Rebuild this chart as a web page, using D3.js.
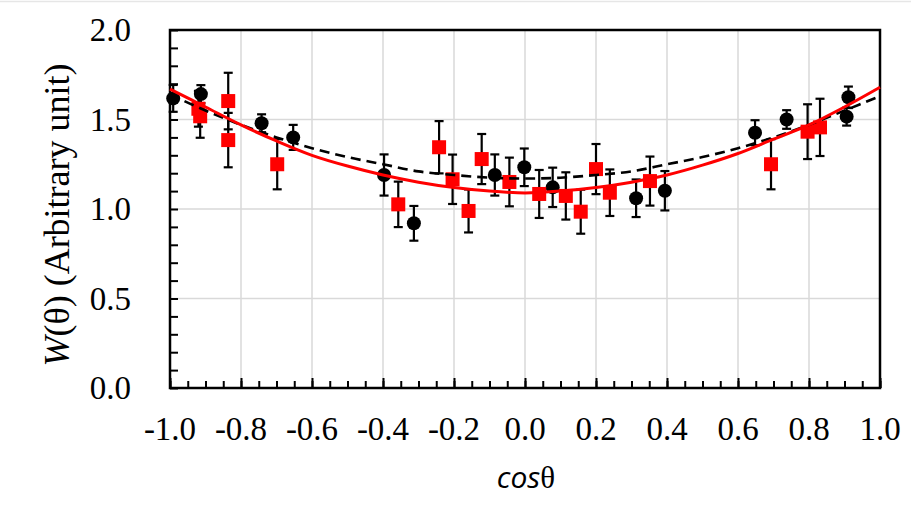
<!DOCTYPE html>
<html>
<head>
<meta charset="utf-8">
<script src="https://cdn.jsdelivr.net/npm/d3@7"></script>
<style>
  html, body { margin: 0; padding: 0; background: #fff; }
  svg { display: block; }
</style>
</head>
<body>
<svg id="chart" width="911" height="524"></svg>
<script>
// ---- data ----
const blackCos = [-0.991, -0.913, -0.742, -0.653, -0.397, -0.313, -0.085, -0.002, 0.078, 0.313, 0.394, 0.648, 0.737, 0.906, 0.911];
const blackW   = [1.618, 1.642, 1.479, 1.400, 1.190, 0.920, 1.190, 1.233, 1.121, 1.060, 1.102, 1.426, 1.500, 1.516, 1.624];
const blackErr = [0.075, 0.050, 0.050, 0.070, 0.115, 0.097, 0.115, 0.105, 0.110, 0.105, 0.110, 0.070, 0.052, 0.050, 0.060];

const redCos = [-0.920, -0.915, -0.836, -0.836, -0.698, -0.357, -0.242, -0.204, -0.159, -0.122, -0.044, 0.040, 0.115, 0.157, 0.200, 0.239, 0.352, 0.693, 0.796, 0.831];
const redW   = [1.560, 1.518, 1.603, 1.385, 1.250, 1.026, 1.345, 1.166, 0.989, 1.279, 1.151, 1.084, 1.073, 0.985, 1.223, 1.091, 1.156, 1.250, 1.432, 1.456];
const redErr = [0.100, 0.120, 0.158, 0.152, 0.140, 0.127, 0.146, 0.138, 0.120, 0.140, 0.136, 0.134, 0.132, 0.123, 0.140, 0.130, 0.137, 0.140, 0.153, 0.160];

const curveCos = [-1.0, -0.9, -0.8, -0.7, -0.6, -0.5, -0.4, -0.3, -0.2, -0.1, 0.0, 0.1, 0.2, 0.3, 0.4, 0.5, 0.6, 0.7, 0.8, 0.9, 1.0];
const redFitW  = [1.67, 1.57, 1.47, 1.38, 1.30, 1.24, 1.19, 1.15, 1.12, 1.10, 1.09, 1.10, 1.12, 1.15, 1.19, 1.245, 1.31, 1.39, 1.47, 1.57, 1.68];
const dashFitW = [1.64, 1.55, 1.47, 1.40, 1.34, 1.29, 1.25, 1.21, 1.19, 1.175, 1.17, 1.175, 1.19, 1.21, 1.25, 1.29, 1.34, 1.40, 1.47, 1.55, 1.63];

const xTickValues = [-1.0, -0.8, -0.6, -0.4, -0.2, 0.0, 0.2, 0.4, 0.6, 0.8, 1.0];
const xTickLabels = ["-1.0", "-0.8", "-0.6", "-0.4", "-0.2", "0.0", "0.2", "0.4", "0.6", "0.8", "1.0"];
const yTickValues = [0.0, 0.5, 1.0, 1.5, 2.0];
const yTickLabels = ["0.0", "0.5", "1.0", "1.5", "2.0"];

// ---- drawing ----
const svg = d3.select("#chart");
const L = 170, R = 880, T = 30, B = 388;
const x = d3.scaleLinear().domain([-1, 1]).range([L, R]);
const y = d3.scaleLinear().domain([0, 2]).range([B, T]);
const serif = "'Liberation Serif', 'Times New Roman', serif";

// faint top border line of the picture
svg.append("line").attr("x1", 0).attr("x2", 911).attr("y1", 1.5).attr("y2", 1.5)
  .attr("stroke", "#e6e6e6").attr("stroke-width", 1.5);

// grid
const grid = svg.append("g");
grid.selectAll("line.v").data(xTickValues.slice(1, -1)).join("line")
  .attr("x1", d => x(d)).attr("x2", d => x(d)).attr("y1", T).attr("y2", B)
  .attr("stroke", "#d9d9d9").attr("stroke-width", 1.5);
grid.selectAll("line.h").data(yTickValues.slice(1, -1)).join("line")
  .attr("x1", L).attr("x2", R).attr("y1", d => y(d)).attr("y2", d => y(d))
  .attr("stroke", "#d9d9d9").attr("stroke-width", 1.5);

// minor + major inward ticks
const xMinor = d3.range(-1, 1.0001, 0.05);
svg.append("g").attr("transform", `translate(0,${B})`)
  .call(d3.axisBottom(x).tickValues(xMinor).tickSize(-7).tickFormat(""))
  .call(g => g.select(".domain").remove())
  .call(g => g.selectAll("line").attr("stroke", "#000").attr("stroke-width", 2));
svg.append("g").attr("transform", `translate(0,${B})`)
  .call(d3.axisBottom(x).tickValues(xTickValues).tickSize(-10).tickFormat(""))
  .call(g => g.select(".domain").remove())
  .call(g => g.selectAll("line").attr("stroke", "#000").attr("stroke-width", 2));
const yMinor = d3.range(0, 2.0001, 0.1);
svg.append("g").attr("transform", `translate(${L},0)`)
  .call(d3.axisLeft(y).tickValues(yMinor).tickSize(-8).tickFormat(""))
  .call(g => g.select(".domain").remove())
  .call(g => g.selectAll("line").attr("stroke", "#000").attr("stroke-width", 2));

// frame
svg.append("rect").attr("x", L).attr("y", T).attr("width", R - L).attr("height", B - T)
  .attr("fill", "none").attr("stroke", "#000").attr("stroke-width", 2.5);

// tick labels
svg.append("g").selectAll("text").data(xTickValues).join("text")
  .attr("x", d => x(d)).attr("y", 440)
  .attr("text-anchor", "middle").attr("font-family", serif).attr("font-size", 33)
  .attr("fill", "#000").text((d, i) => xTickLabels[i]);
svg.append("g").selectAll("text").data(yTickValues).join("text")
  .attr("x", 131).attr("y", d => y(d) + 11)
  .attr("text-anchor", "end").attr("font-family", serif).attr("font-size", 33)
  .attr("fill", "#000").text((d, i) => yTickLabels[i]);

// axis titles
const yt = svg.append("text").attr("transform", "translate(69,215) rotate(-90)")
  .attr("text-anchor", "middle").attr("font-family", serif).attr("font-size", 36).attr("fill", "#000");
yt.append("tspan").attr("font-style", "italic").text("W");
yt.append("tspan").text("(θ) (Arbitrary unit)");

const xt = svg.append("text").attr("x", 526).attr("y", 488)
  .attr("text-anchor", "middle").attr("fill", "#000");
xt.append("tspan").attr("font-family", "'Open Sans', sans-serif").attr("font-style", "italic").attr("font-size", 30).text("cos");
xt.append("tspan").attr("font-family", serif).attr("font-size", 31).text("θ");

// data series
const blackData = blackCos.map((c, i) => ({ c, w: blackW[i], e: blackErr[i] }));
const redData = redCos.map((c, i) => ({ c, w: redW[i], e: redErr[i] }));

function errorBars(g, data) {
  const cap = 4.5;
  const sel = g.selectAll("g").data(data).join("g");
  sel.append("line").attr("x1", d => x(d.c)).attr("x2", d => x(d.c))
    .attr("y1", d => y(d.w + d.e)).attr("y2", d => y(d.w - d.e));
  sel.append("line").attr("x1", d => x(d.c) - cap).attr("x2", d => x(d.c) + cap)
    .attr("y1", d => y(d.w + d.e)).attr("y2", d => y(d.w + d.e));
  sel.append("line").attr("x1", d => x(d.c) - cap).attr("x2", d => x(d.c) + cap)
    .attr("y1", d => y(d.w - d.e)).attr("y2", d => y(d.w - d.e));
}
const ebB = svg.append("g").attr("stroke", "#000").attr("stroke-width", 2.2);
errorBars(ebB, blackData);
svg.append("g").selectAll("circle").data(blackData).join("circle")
  .attr("cx", d => x(d.c)).attr("cy", d => y(d.w)).attr("r", 7).attr("fill", "#000");

const ebR = svg.append("g").attr("stroke", "#000").attr("stroke-width", 2.2);
errorBars(ebR, redData);
svg.append("g").selectAll("rect").data(redData).join("rect")
  .attr("x", d => x(d.c) - 7).attr("y", d => y(d.w) - 7).attr("width", 14).attr("height", 14)
  .attr("fill", "#ff0000");

// fit curves
const line = d3.line().x(d => x(d[0])).y(d => y(d[1])).curve(d3.curveCatmullRom);
svg.append("path").datum(curveCos.map((c, i) => [c, dashFitW[i]]))
  .attr("d", line).attr("fill", "none").attr("stroke", "#000")
  .attr("stroke-width", 2.6).attr("stroke-dasharray", "10,6");
svg.append("path").datum(curveCos.map((c, i) => [c, redFitW[i]]))
  .attr("d", line).attr("fill", "none").attr("stroke", "#ff0000")
  .attr("stroke-width", 3);
</script>
</body>
</html>
